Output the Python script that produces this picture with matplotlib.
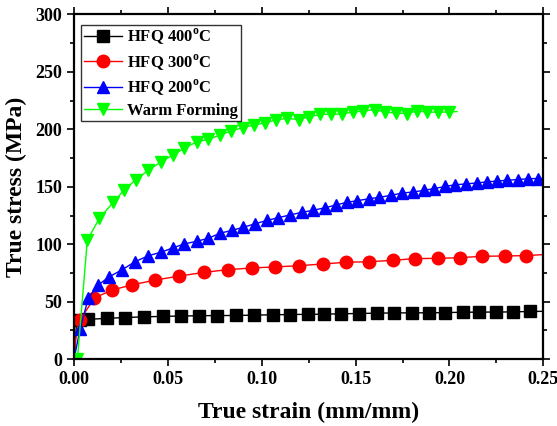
import numpy as np
import matplotlib
matplotlib.use("Agg")
import matplotlib.pyplot as plt
from matplotlib.ticker import MultipleLocator

plt.rcParams['font.family'] = 'Liberation Serif'
plt.rcParams['font.weight'] = 'bold'
plt.rcParams['mathtext.fontset'] = 'custom'
plt.rcParams['mathtext.rm'] = 'Liberation Serif:bold'

# HFQ 400C
strain_400 = [0.0, 0.0012, 0.0032, 0.0075, 0.0174, 0.0272, 0.0373, 0.0473, 0.0570, 0.0668,
              0.0764, 0.0864, 0.0961, 0.1059, 0.1148, 0.1244, 0.1334, 0.1422, 0.1516,
              0.1613, 0.1706, 0.1800, 0.1889, 0.1978, 0.2070, 0.2160, 0.2249, 0.2338,
              0.2427, 0.2500]
stress_400 = [0.0, 28.0, 34.0, 34.6, 35.5, 36.2, 36.8, 37.2, 37.5, 37.8,
              37.9, 38.0, 38.3, 38.6, 38.8, 39.0, 39.1, 39.5, 39.7,
              40.0, 40.2, 40.3, 40.3, 40.5, 40.8, 40.9, 41.0, 41.1,
              41.5, 41.6]

# HFQ 300C
strain_300 = [0.0, 0.0012, 0.0032, 0.0108, 0.0201, 0.0311, 0.0432, 0.0560, 0.0693, 0.0819,
              0.0947, 0.1071, 0.1200, 0.1324, 0.1450, 0.1574, 0.1699, 0.1814, 0.1938,
              0.2054, 0.2175, 0.2294, 0.2410, 0.2500]
stress_300 = [0.0, 22.0, 34.1, 53.1, 60.1, 64.7, 68.8, 72.3, 75.5, 77.9,
              79.3, 80.3, 81.3, 82.8, 84.3, 84.8, 86.0, 87.5, 87.7,
              88.3, 89.5, 89.8, 90.1, 91.0]

# HFQ 200C
strain_200 = [0.0, 0.0032, 0.0076, 0.0130, 0.0188, 0.0254, 0.0325, 0.0396, 0.0462, 0.0526,
              0.0588, 0.0654, 0.0716, 0.0778, 0.0840, 0.0902, 0.0965, 0.1027, 0.1085,
              0.1151, 0.1214, 0.1272, 0.1338, 0.1397, 0.1453, 0.1510, 0.1569, 0.1627,
              0.1688, 0.1747, 0.1805, 0.1862, 0.1919, 0.1978, 0.2031, 0.2090, 0.2147,
              0.2200, 0.2253, 0.2307, 0.2364, 0.2417, 0.2470, 0.2500]
stress_200 = [0.0, 26.0, 53.1, 64.7, 71.7, 77.6, 84.8, 90.0, 93.0, 96.8,
              100.3, 102.6, 105.2, 109.6, 112.0, 114.8, 117.8, 120.7, 123.0,
              125.5, 127.8, 129.5, 131.8, 134.2, 136.5, 137.9, 139.6, 140.8,
              142.6, 144.5, 145.5, 146.8, 148.5, 150.3, 151.8, 152.5, 153.4,
              154.3, 155.0, 155.7, 156.3, 157.0, 157.2, 157.3]

# Warm forming
strain_wf = [0.0018, 0.0071, 0.0135, 0.0210, 0.0266, 0.0330, 0.0396, 0.0462, 0.0526, 0.0586,
             0.0654, 0.0716, 0.0778, 0.0837, 0.0899, 0.0959, 0.1018, 0.1077, 0.1134,
             0.1196, 0.1254, 0.1311, 0.1370, 0.1427, 0.1485, 0.1542, 0.1601, 0.1658,
             0.1717, 0.1774, 0.1827, 0.1881, 0.1939, 0.1996, 0.2040]
stress_wf = [0.0, 103.8, 122.5, 136.7, 147.0, 156.3, 164.4, 171.7, 177.6, 183.4,
             189.2, 191.3, 195.1, 198.6, 201.5, 203.8, 205.8, 208.2, 209.6,
             208.5, 211.0, 213.0, 213.2, 213.4, 215.0, 216.0, 217.2, 215.0,
             214.2, 213.8, 216.0, 215.0, 215.0, 215.0, 215.5]

fig = plt.figure(figsize=(5.57, 4.26), dpi=100)
ax = fig.add_axes([0.1329, 0.157, 0.8425, 0.809])

ms = 8
ax.plot(strain_400, stress_400, '-', color='black', marker='s', ms=ms,
        markevery=slice(2, -1), lw=1, label='HFQ 400$^\\mathregular{o}$C')
ax.plot(strain_300, stress_300, '-', color='red', marker='o', ms=ms + 1,
        markevery=slice(2, -1), lw=1, label='HFQ 300$^\\mathregular{o}$C')
ax.plot(strain_200, stress_200, '-', color='blue', marker='^', ms=ms + 1,
        markevery=slice(1, -1), lw=1, label='HFQ 200$^\\mathregular{o}$C')
ax.plot(strain_wf, stress_wf, '-', color='#00ff00', marker='v', ms=ms + 1,
        markevery=slice(0, -1), lw=1, label='Warm Forming')

ax.set_xlim(0, 0.25)
ax.set_ylim(0, 300)
ax.xaxis.set_major_locator(MultipleLocator(0.05))
ax.xaxis.set_minor_locator(MultipleLocator(0.025))
ax.yaxis.set_major_locator(MultipleLocator(50))
ax.yaxis.set_minor_locator(MultipleLocator(25))
ax.xaxis.set_major_formatter(plt.FuncFormatter(lambda v, p: '%.2f' % v))
ax.tick_params(which='both', direction='out', top=True, right=True, width=1.2,
               labelsize=13)
ax.tick_params(which='major', length=5)
ax.tick_params(which='minor', length=3)
ax.tick_params(axis='x', which='both', top=True, labeltop=False)
for s in ax.spines.values():
    s.set_linewidth(1.6)

ax.set_xlabel('True strain (mm/mm)', fontsize=17, fontweight='bold', labelpad=10)
ax.set_ylabel('True stress (MPa)', fontsize=17, fontweight='bold', labelpad=6)

leg = ax.legend(loc='upper left', fontsize=12, frameon=True, fancybox=False,
                edgecolor='black', handlelength=2.3, borderpad=0.15,
                borderaxespad=0.3, labelspacing=0.3, handletextpad=0.3,
                bbox_to_anchor=(0.005, 0.985))
leg.get_frame().set_linewidth(1.0)

fig.savefig('out.png', dpi=100)
